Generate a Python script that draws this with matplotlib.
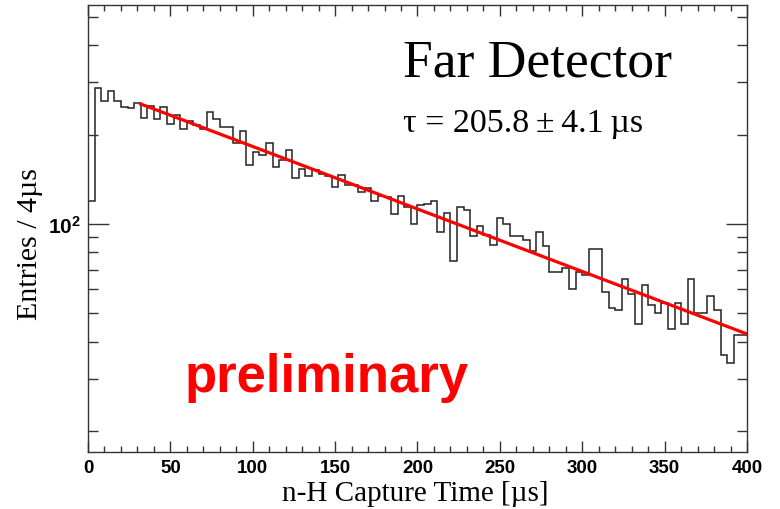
import numpy as np
import matplotlib
matplotlib.use("Agg")
import matplotlib.pyplot as plt
from matplotlib.ticker import MultipleLocator, FixedLocator, NullFormatter, FixedFormatter

plt.rcParams['mathtext.fontset'] = 'custom'
plt.rcParams['mathtext.rm'] = 'Liberation Sans'
plt.rcParams['mathtext.bf'] = 'Liberation Sans:bold'

# n-H capture time histogram, 4 us bins from 0 to 400 us
bin_width = 4
counts = [
    119, 287, 260, 281, 259, 248, 246, 256, 228, 250,
    225, 247, 217, 233, 209, 223, 215, 209, 238, 226,
    213, 213, 187, 206, 158, 175, 171, 187, 156, 164,
    178, 143, 153, 145, 152, 147, 145, 133, 146, 135,
    135, 128, 132, 119, 124, 123, 108, 124, 114, 100,
    116, 117, 119, 94, 109, 75, 114, 111, 91, 98,
    92, 85, 105, 100, 91, 91, 88, 81, 94, 84,
    68.5, 69, 71, 60, 69, 67, 82, 82, 59, 52,
    51, 65, 58, 46, 62, 53, 50, 54, 44, 54,
    46, 65, 50, 50, 57, 51, 36, 34, 42, 42,
]

# exponential fit
fit_amp = 296.5
fit_tau = 205.8
fit_tau_err = 4.1
fit_start, fit_stop = 32, 400

edges = np.arange(len(counts) + 1) * bin_width

fig = plt.figure(figsize=(7.8, 5.1), dpi=100)
ax = fig.add_axes([0.1128, 0.1124, 0.8449, 0.8749])

ax.stairs(counts, edges, baseline=None, color='#222222', lw=1.1)

t = np.linspace(fit_start, fit_stop, 400)
ax.plot(t, fit_amp * np.exp(-t / fit_tau), color='#ff0000', lw=2.3)

ax.set_yscale('log')
ax.set_xlim(0, 400)
ax.set_ylim(17, 546)

# ROOT-like ticks: inside, on all four sides
ax.xaxis.set_major_locator(MultipleLocator(50))
ax.xaxis.set_minor_locator(MultipleLocator(10))
ax.yaxis.set_major_locator(FixedLocator([100]))
ax.yaxis.set_major_formatter(FixedFormatter([r'$\mathbf{10^{2}}$']))
ax.yaxis.set_minor_locator(FixedLocator([20, 30, 40, 50, 60, 70, 80, 90, 200, 300, 400, 500]))
ax.yaxis.set_minor_formatter(NullFormatter())

ax.tick_params(which='both', direction='in', top=True, right=True, width=1.0, color='#333333')
ax.tick_params(axis='x', which='major', length=8, pad=5)
ax.tick_params(axis='x', which='minor', length=4.5)
ax.tick_params(axis='y', which='major', length=15, pad=5)
ax.tick_params(axis='y', which='minor', length=7.5)
for lab in ax.get_xticklabels():
    lab.set_fontfamily('Liberation Sans')
    lab.set_fontweight('bold')
    lab.set_fontsize(13.5)
for lab in ax.get_yticklabels():
    lab.set_fontsize(15)
for sp in ax.spines.values():
    sp.set_linewidth(1.0)
    sp.set_color('#333333')

ax.set_xlabel('n-H Capture Time [µs]', family='Liberation Serif', fontsize=21)
ax.set_ylabel('Entries / 4µs', family='Liberation Serif', fontsize=21.5)
ax.xaxis.set_label_coords(0.497, -0.064)
ax.yaxis.set_label_coords(-0.068, 0.468)

ax.text(0.478, 0.8427, 'Far Detector', transform=ax.transAxes,
        family='Liberation Serif', fontsize=38.5, va='baseline', ha='left')
ax.text(0.478, 0.7194, f'τ = {fit_tau}\u2009±\u2009{fit_tau_err}\u2009µs', transform=ax.transAxes,
        family='Liberation Serif', fontsize=24.5, va='baseline', ha='left')
ax.text(0.147, 0.1367, 'preliminary', transform=ax.transAxes,
        family='Liberation Sans', fontweight='bold', fontsize=38, color='#ff0000',
        va='baseline', ha='left')

fig.savefig('out.png', dpi=100)
